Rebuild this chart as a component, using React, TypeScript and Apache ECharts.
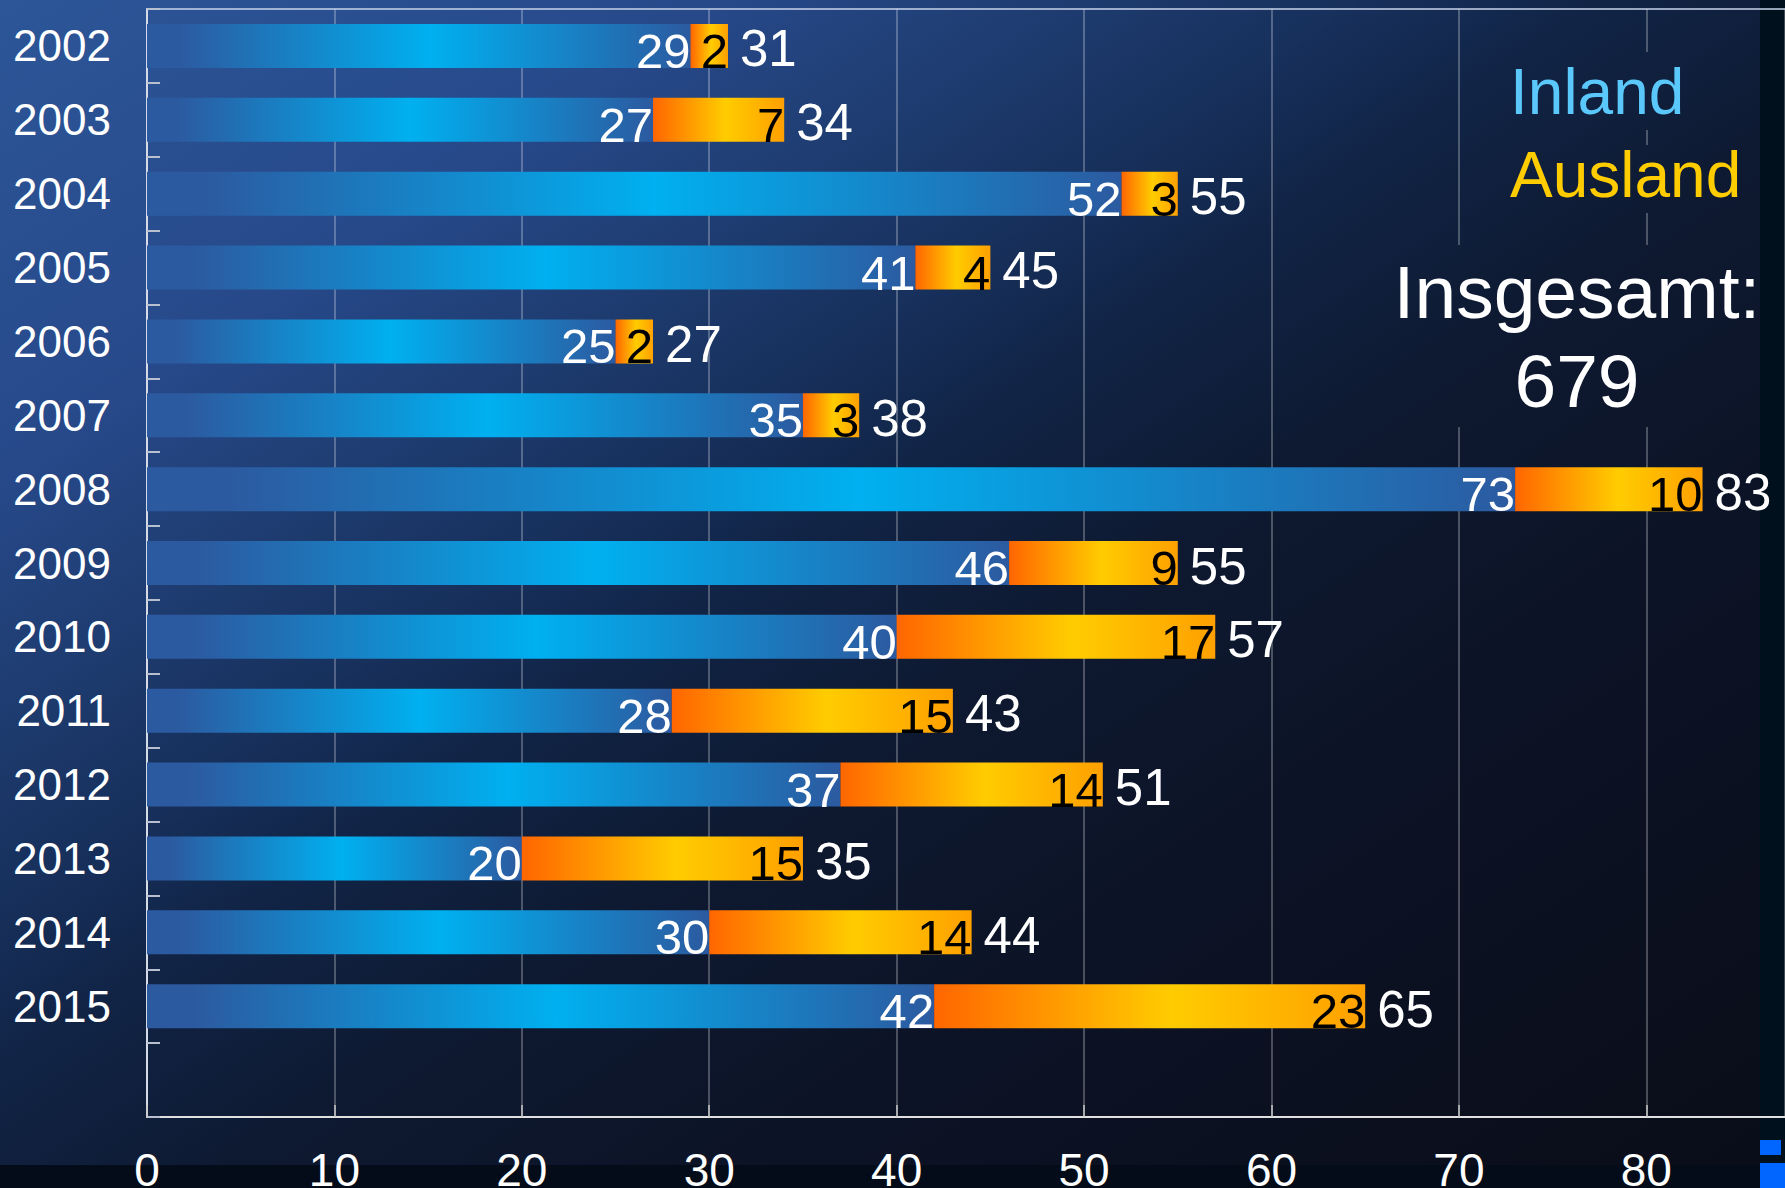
import React, { useEffect, useRef } from "react";
import * as echarts from "echarts";

const years = ["2002", "2003", "2004", "2005", "2006", "2007", "2008", "2009", "2010", "2011", "2012", "2013", "2014", "2015"];
const inland = [29, 27, 52, 41, 25, 35, 73, 46, 40, 28, 37, 20, 30, 42];
const ausland = [2, 7, 3, 4, 2, 3, 10, 9, 17, 15, 14, 15, 14, 23];
const totals = [31, 34, 55, 45, 27, 38, 83, 55, 57, 43, 51, 35, 44, 65];
const xMin = 0;
const xMax = 87.4;
const xInterval = 10;
const legendInland = "Inland";
const legendAusland = "Ausland";
const totalTitle = "Insgesamt:";
const totalValue = "679";

const W = 1785;
const H = 1188;
const FONT = "'Liberation Sans', Arial, sans-serif";

export default function App() {
  const ref = useRef<HTMLDivElement>(null);
  useEffect(() => {
    const chart = echarts.init(ref.current!, null, { renderer: "svg" });
    const bgStops = [
      { offset: 0, color: "#2c5698" },
      { offset: 0.2, color: "#27498a" },
      { offset: 0.3, color: "#1e3c70" },
      { offset: 0.38, color: "#17305c" },
      { offset: 0.45, color: "#112446" },
      { offset: 0.55, color: "#0e1a32" },
      { offset: 0.7, color: "#0c1326" },
      { offset: 1, color: "#0a0d18" },
    ];
    const mkBg = () => new echarts.graphic.LinearGradient(0, 0, 1096, 1647, bgStops, true);
    const inlandGrad = new echarts.graphic.LinearGradient(0, 0, 1, 0, [
      { offset: 0, color: "#2c5aa0" },
      { offset: 0.06, color: "#2c5aa0" },
      { offset: 0.52, color: "#00b0f0" },
      { offset: 1, color: "#2c5aa0" },
    ]);
    const auslandGrad = new echarts.graphic.LinearGradient(0, 0, 1, 0, [
      { offset: 0, color: "#ff6600" },
      { offset: 0.55, color: "#ffcc00" },
      { offset: 1, color: "#ffa000" },
    ]);
    const labelBase = {
      show: true,
      fontFamily: FONT,
      textBorderWidth: 0,
    };
    const txt = (text: string, x: number, y: number, size: number, color: string, align: string) => ({
      type: "text",
      x,
      y,
      z: 10,
      silent: true,
      style: {
        text,
        fill: color,
        fontSize: size,
        fontFamily: FONT,
        align,
        textAlign: align,
        verticalAlign: "middle",
        textVerticalAlign: "middle",
      },
    });
    const cover = (x: number, y: number, w: number, h: number) => ({
      type: "rect",
      z: 4,
      silent: true,
      shape: { x, y, width: w, height: h },
      style: { fill: mkBg() },
    });
    const option: any = {
      animation: false,
      backgroundColor: "#0a0e18",
      grid: { left: 147, right: 0, top: 9, bottom: 71, containLabel: false, outerBoundsMode: "none" },
      xAxis: [
        {
          type: "value",
          min: xMin,
          max: xMax,
          interval: xInterval,
          z: 3,
          axisLine: { show: true, lineStyle: { color: "#e0e0e0", width: 2 } },
          axisTick: { show: true, inside: true, length: 12, lineStyle: { color: "#c8c8c8", width: 1.5 } },
          axisLabel: { color: "#ffffff", fontSize: 46, fontFamily: FONT, margin: 30, showMaxLabel: false },
          splitLine: { show: true, lineStyle: { color: "rgba(255,255,255,0.35)", width: 1.5 } },
        },
        {
          type: "value",
          position: "top",
          min: xMin,
          max: xMax,
          interval: xInterval,
          z: 3,
          axisLine: { show: true, lineStyle: { color: "rgba(200,212,235,0.75)", width: 2 } },
          axisTick: { show: false },
          axisLabel: { show: false },
          splitLine: { show: false },
        },
      ],
      yAxis: {
        type: "category",
        data: [...years, ""],
        inverse: true,
        z: 3,
        axisLine: { show: true, lineStyle: { color: "#d4dae6", width: 2 } },
        axisTick: { show: true, inside: true, length: 13, lineStyle: { color: "#b8c0d0", width: 2 } },
        axisLabel: { color: "#ffffff", fontSize: 44, fontFamily: FONT, margin: 36, padding: [6, 0, 0, 0] },
        splitLine: { show: false },
      },
      series: [
        {
          type: "bar",
          name: legendInland,
          stack: "a",
          data: inland,
          barWidth: 44,
          barGap: "-100%",
          z: 5,
          itemStyle: { color: inlandGrad },
          label: { ...labelBase, fontSize: 49, position: "insideRight", distance: 0, color: "#ffffff", offset: [0, 5] },
        },
        {
          type: "bar",
          name: legendAusland,
          stack: "a",
          data: ausland,
          barWidth: 44,
          barGap: "-100%",
          z: 5,
          itemStyle: { color: auslandGrad },
          label: { ...labelBase, fontSize: 49, position: "insideRight", distance: 0, color: "#000000", offset: [0, 5] },
        },
        {
          type: "bar",
          name: "Gesamt",
          data: totals,
          barWidth: 44,
          barGap: "-100%",
          z: 4,
          silent: true,
          itemStyle: { color: "rgba(0,0,0,0)" },
          label: { ...labelBase, fontSize: 51, position: "right", distance: 12, color: "#ffffff", offset: [0, 3] },
        },
      ],
      graphic: [
        { type: "rect", z: -10, silent: true, shape: { x: 0, y: 0, width: W, height: H }, style: { fill: mkBg() } },
        { type: "rect", z: 1, silent: true, shape: { x: 0, y: 1165, width: W, height: H - 1165 }, style: { fill: "#030c18" } },
        { type: "rect", z: 1, silent: true, shape: { x: 1760, y: 0, width: W - 1760, height: H }, style: { fill: "#00101c" } },
        cover(1495, 52, 205, 78),
        cover(1495, 145, 255, 68),
        cover(1390, 245, 370, 182),
        txt(legendInland, 1510, 92, 64, "#5ac8fa", "left"),
        txt(legendAusland, 1510, 175, 64, "#ffcc00", "left"),
        txt(totalTitle, 1577, 292, 75, "#ffffff", "center"),
        txt(totalValue, 1577, 381, 75, "#ffffff", "center"),
        { type: "rect", z: 20, silent: true, shape: { x: 1760, y: 1140, width: 21, height: 15 }, style: { fill: "#0066ff" } },
        { type: "rect", z: 20, silent: true, shape: { x: 1760, y: 1163, width: 25, height: 25 }, style: { fill: "#0066ff" } },
      ],
    };
    chart.setOption(option);
    return () => chart.dispose();
  }, []);
  return <div ref={ref} style={{ position: "absolute", left: 0, top: 0, width: W, height: H }} />;
}
